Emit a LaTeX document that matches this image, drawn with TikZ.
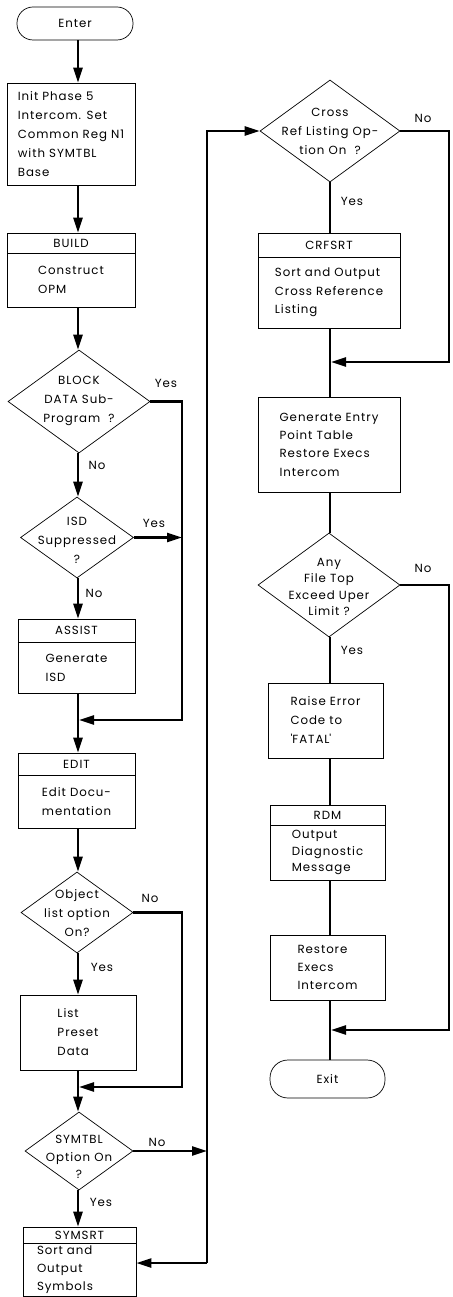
\documentclass[tikz,border=0pt]{standalone}
\usepackage{fontspec}
\setmainfont{Poppins}[LetterSpace=8]
\usetikzlibrary{shapes.geometric,arrows.meta,calc}
\begin{document}
\begin{tikzpicture}[x=1pt,y=-1pt,
  every node/.style={font=\fontsize{11.8}{19}\selectfont},
  box/.style={draw, line width=0.7pt, rectangle, inner sep=0pt, align=left},
  hdr/.style={draw, line width=0.7pt, rectangle, inner sep=0pt},
  dia/.style={draw, line width=0.7pt, diamond, inner sep=0pt},
  dtext/.style={align=center, inner sep=0pt},
  term/.style={draw, line width=0.7pt, rectangle, rounded corners=16pt, inner sep=0pt},
  flow/.style={line width=2.4pt},
  arr/.style={flow, -{Triangle[length=15pt,width=9pt]}},
  lab/.style={inner sep=0pt},
]
\useasboundingbox (0,0) rectangle (452,1297);

% ---------- left column ----------
\node[term, minimum width=116pt, minimum height=33pt] (enter) at (75,23.5) {Enter};
\node[box, minimum width=128pt, minimum height=102pt] (init) at (71,134)
  {Init Phase 5\\Intercom. Set\\Common Reg N1\\with SYMTBL\\Base};
\node[hdr, minimum width=128pt, minimum height=20pt] (buildh) at (71,243) {BUILD};
\node[box, minimum width=128pt, minimum height=54pt] (buildb) at (71,280) {Construct\\OPM};
\node[dia, minimum width=142pt, minimum height=103pt] (block) at (79,401.5) {};
\node[dtext] (blockt) at (79,401) {BLOCK\\DATA Sub-\\Program\ \ ?};
\node[dia, minimum width=113pt, minimum height=81pt] (isd) at (77,537.5) {};
\node[dtext] (isdt) at (77,540) {ISD\\Suppressed\\?};
\node[hdr, minimum width=117pt, minimum height=23pt] (assisth) at (76.5,630.5) {ASSIST};
\node[box, minimum width=117pt, minimum height=51pt] (assistb) at (76.5,667.5) {Generate\\ISD};
\node[hdr, minimum width=117pt, minimum height=22pt] (edith) at (76.5,764) {EDIT};
\node[box, minimum width=117pt, minimum height=53pt] (editb) at (76.5,801.5) {Edit Docu-\\mentation};
\node[dia, minimum width=112pt, minimum height=81pt] (obj) at (77,912.5) {};
\node[dtext] (objt) at (77,913) {Object\\list option\\On?};
\node[box, minimum width=116pt, minimum height=75pt] (list) at (78,1032.5) {List\\Preset\\Data};
\node[dia, minimum width=108pt, minimum height=78pt] (symtbl) at (79,1151) {};
\node[dtext, font=\fontsize{11.8}{17.5}\selectfont] (symtblt) at (79,1157) {SYMTBL\\Option On\\?};
\node[hdr, minimum width=113pt, minimum height=16pt] (symsrth) at (79.5,1235) {SYMSRT};
\node[box, minimum width=113pt, minimum height=53pt, text width=85pt,
  font=\fontsize{11.8}{18}\selectfont] (symsrtb) at (79.5,1270) {Sort and\\Output\\Symbols};

% ---------- right column ----------
\node[dia, minimum width=140pt, minimum height=102pt] (cross) at (330,131) {};
\node[dtext] (crosst) at (330,131) {Cross\\Ref Listing Op-\\tion On\ \ ?};
\node[hdr, minimum width=142pt, minimum height=24pt] (crfh) at (329,245) {CRFSRT};
\node[box, minimum width=142pt, minimum height=71pt, font=\fontsize{11.8}{18.3}\selectfont] (crfb) at (329,292.5) {Sort and Output\\Cross Reference\\Listing};
\node[box, minimum width=142pt, minimum height=95pt, font=\fontsize{11.8}{18.3}\selectfont] (gen) at (329,444.5) {Generate Entry\\Point Table\\Restore Execs\\Intercom};
\node[dia, minimum width=142pt, minimum height=104pt] (any) at (329,585) {};
\node[dtext, font=\fontsize{11.8}{16.5}\selectfont] (anyt) at (329,587) {Any\\File Top\\Exceed Uper\\Limit ?};
\node[box, minimum width=115pt, minimum height=75pt] (raise) at (325.5,720.5) {Raise Error\\Code to\\\textquotesingle FATAL\textquotesingle};
\node[hdr, minimum width=115pt, minimum height=20pt] (rdmh) at (327.5,815) {RDM};
\node[box, minimum width=115pt, minimum height=55pt, font=\fontsize{11.8}{16.5}\selectfont] (rdmb) at (327.5,852.5) {Output\\Diagnostic\\Message};
\node[box, minimum width=115pt, minimum height=65pt, font=\fontsize{11.8}{18}\selectfont] (restore) at (327.5,967.5) {Restore\\Execs\\Intercom};
\node[term, minimum width=115pt, minimum height=38pt, rounded corners=18pt] (exit) at (327.5,1079) {Exit};

% ---------- labels ----------
\node[lab] (l1) at (166,383) {Yes};
\node[lab] (l2) at (97,465) {No};
\node[lab] (l3) at (154,523) {Yes};
\node[lab] (l4) at (94,593) {No};
\node[lab] (l5) at (150,898) {No};
\node[lab] (l6) at (102,967) {Yes};
\node[lab] (l7) at (157,1142) {No};
\node[lab] (l8) at (101,1202) {Yes};
\node[lab] (l9) at (423,118) {No};
\node[lab] (l10) at (352,201) {Yes};
\node[lab] (l11) at (423,568) {No};
\node[lab] (l12) at (352,650) {Yes};

% ---------- guide coordinates ----------
\coordinate (L) at (78,0);
\coordinate (R) at (330,0);
\coordinate (LB) at (182,0);
\coordinate (BUS) at (207,0);
\coordinate (RB) at (449,0);
\coordinate (m1) at (78,720);
\coordinate (m2) at (78,1087);
\coordinate (m3) at (207,1263);
\coordinate (m4) at (330,362);
\coordinate (m5) at (330,1030);

% ---------- left connectors ----------
\draw[arr] (enter.south -| L) -- (init.north -| L);
\draw[arr] (init.south -| L) -- (buildh.north -| L);
\draw[arr] (buildb.south -| L) -- (block.north -| L);
\draw[arr] (block.south -| L) -- (isd.north -| L);
\draw[arr] (isd.south -| L) -- (assisth.north -| L);
\draw[flow] (assistb.south -| L) -- (m1);
\draw[arr] (m1) -- (edith.north -| L);
\draw[arr] (block.east) -- (block.east -| LB) -- (LB |- m1) -- ([xshift=1pt]m1);
\draw[arr] (isd.east) -- (isd.east -| LB);
\draw[arr] (editb.south -| L) -- (obj.north -| L);
\draw[arr] (obj.south -| L) -- (list.north -| L);
\draw[flow] (list.south -| L) -- (m2);
\draw[arr] (obj.east) -- (obj.east -| LB) -- (LB |- m2) -- ([xshift=1pt]m2);
\draw[arr] (m2) -- (symtbl.north -| L);
\draw[arr] (symtbl.south -| L) -- (symsrth.north -| L);
\draw[arr] (symtbl.east) -- (symtbl.east -| BUS);
\draw[arr] (m3) -- (BUS |- cross.west) -- (cross.west);
\draw[arr] (m3) -- (symsrtb.east |- m3);

% ---------- right connectors ----------
\draw[flow] (cross.south) -- (crfh.north -| R);
\draw[flow] (crfb.south -| R) -- (gen.north -| R);
\draw[arr] (cross.east) -- (cross.east -| RB) -- (RB |- m4) -- ([xshift=1pt]m4);
\draw[flow] (gen.south -| R) -- (any.north -| R);
\draw[flow] (any.south -| R) -- (raise.north -| R);
\draw[flow] (raise.south -| R) -- (rdmh.north -| R);
\draw[flow] (rdmb.south -| R) -- (restore.north -| R);
\draw[flow] (restore.south -| R) -- (exit.north -| R);
\draw[arr] (any.east) -- (any.east -| RB) -- (RB |- m5) -- ([xshift=1pt]m5);
\end{tikzpicture}
\end{document}
